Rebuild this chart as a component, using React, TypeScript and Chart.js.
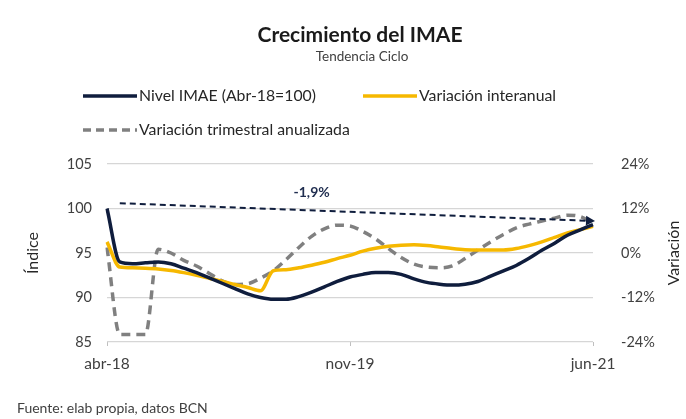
import React, { useEffect, useRef } from 'react';
import { Chart, registerables } from 'chart.js';

Chart.register(...registerables);

const months = [
  'abr-18', 'may-18', 'jun-18', 'jul-18', 'ago-18', 'sep-18', 'oct-18', 'nov-18', 'dic-18',
  'ene-19', 'feb-19', 'mar-19', 'abr-19', 'may-19', 'jun-19', 'jul-19', 'ago-19', 'sep-19', 'oct-19', 'nov-19', 'dic-19',
  'ene-20', 'feb-20', 'mar-20', 'abr-20', 'may-20', 'jun-20', 'jul-20', 'ago-20', 'sep-20', 'oct-20', 'nov-20', 'dic-20',
  'ene-21', 'feb-21', 'mar-21', 'abr-21', 'may-21', 'jun-21',
];
const shownTicks = ['abr-18', 'nov-19', 'jun-21'];

const nivel = [
  100, 94.0, 93.8, 93.9, 94.0, 93.8, 93.3, 92.8, 92.2, 91.6, 91.0, 90.4, 90.0, 89.8, 89.8, 90.1, 90.6,
  91.2, 91.8, 92.3, 92.6, 92.8, 92.8, 92.6, 92.1, 91.7, 91.5, 91.4, 91.5, 91.8, 92.4, 93.0, 93.6, 94.4,
  95.3, 96.1, 97.0, 97.6, 98.2,
];
const interanual = [
  3.0, -3.8, -4.0, -4.1, -4.3, -4.7, -5.3, -6.0, -6.8, -7.6, -8.5, -9.3, -10.2, -4.8, -4.5, -4.0, -3.3,
  -2.5, -1.5, -0.6, 0.5, 1.3, 1.8, 2.1, 2.2, 2.0, 1.6, 1.2, 0.9, 0.8, 0.8, 0.8, 1.2, 2.0, 3.0, 4.2, 5.4,
  6.3, 7.2,
];
const trimestral = [
  1.5, -22, -22, -22, 1.0, 0.0, -2.0, -3.5, -5.5, -7.5, -8.5, -8.3, -6.8, -4.8, -1.8, 1.5, 4.5, 6.5, 7.5,
  7.3, 5.8, 3.8, 1.2, -1.2, -3.0, -3.8, -4.0, -3.5, -1.5, 0.8, 3.0, 5.0, 6.8, 7.8, 8.6, 9.4, 10.2, 9.8, 8.1,
];
const trendMonths = ['may-18', 'jun-21'];
const trendValues = [100.6, 98.6];
const trendLabel = '-1,9%';
const trendLabelAt = { month: 'ago-19', value: 101.75 };

const leftRange = [85, 105, 5];
const rightRange = [-24, 24, 12];

const titleText = 'Crecimiento del IMAE';
const subtitleText = 'Tendencia Ciclo';
const leftTitle = 'Índice';
const rightTitle = 'Variación';
const sourceText = 'Fuente: elab propia, datos BCN';
const seriesNames = ['Nivel IMAE (Abr-18=100)', 'Variación interanual', 'Variación trimestral anualizada'];

const NAVY = '#0f1d3d';
const YELLOW = '#f6b800';
const GRAY = '#808080';
const TEXT = '#404040';
const FONT = 'Lato, "Open Sans", sans-serif';

const trendData = months.map((m) => {
  const i = trendMonths.indexOf(m);
  return i >= 0 ? trendValues[i] : null;
});

const decor = {
  id: 'decor',
  afterDatasetsDraw(chart: any) {
    const ctx = chart.ctx;
    const meta = chart.getDatasetMeta(3);
    const a = meta.data[months.indexOf(trendMonths[0])];
    const b = meta.data[months.indexOf(trendMonths[1])];
    const ang = Math.atan2(b.y - a.y, b.x - a.x);
    ctx.save();
    ctx.fillStyle = NAVY;
    ctx.translate(b.x + 2, b.y);
    ctx.rotate(ang);
    ctx.beginPath();
    ctx.moveTo(0, 0);
    ctx.lineTo(-9, -5);
    ctx.lineTo(-9, 5);
    ctx.closePath();
    ctx.fill();
    ctx.restore();

    const lx = chart.scales.x.getPixelForValue(months.indexOf(trendLabelAt.month));
    const ly = chart.scales.y.getPixelForValue(trendLabelAt.value);
    ctx.save();
    ctx.fillStyle = '#1f2d4f';
    ctx.font = `bold 14px ${FONT}`;
    ctx.textAlign = 'center';
    ctx.textBaseline = 'middle';
    ctx.fillText(trendLabel, lx, ly);
    ctx.restore();
  },
  afterDraw(chart: any) {
    const ctx = chart.ctx;
    const area = chart.chartArea;
    ctx.save();
    ctx.textBaseline = 'middle';
    ctx.textAlign = 'center';
    ctx.fillStyle = '#1a1a1a';
    ctx.font = `bold 21px ${FONT}`;
    ctx.fillText(titleText, 360, 35);
    ctx.fillStyle = TEXT;
    ctx.font = `13.5px ${FONT}`;
    ctx.fillText(subtitleText, 362, 57);

    // legend
    ctx.textAlign = 'left';
    ctx.font = `15.8px ${FONT}`;
    const items = [
      { x: 83, y: 96, color: NAVY, dash: [] as number[], w: 3.5 },
      { x: 363, y: 96, color: YELLOW, dash: [] as number[], w: 3.5 },
      { x: 83, y: 130, color: GRAY, dash: [8, 5], w: 3.5 },
    ];
    items.forEach((it, i) => {
      ctx.save();
      ctx.strokeStyle = it.color;
      ctx.lineWidth = it.w;
      ctx.setLineDash(it.dash);
      ctx.beginPath();
      ctx.moveTo(it.x, it.y);
      ctx.lineTo(it.x + 54, it.y);
      ctx.stroke();
      ctx.restore();
      ctx.fillStyle = '#262626';
      ctx.fillText(seriesNames[i], it.x + 56, it.y);
    });

    // axis titles
    const midY = (area.top + area.bottom) / 2;
    ctx.font = `16px ${FONT}`;
    ctx.fillStyle = '#262626';
    ctx.textAlign = 'center';
    ctx.save();
    ctx.translate(33, midY);
    ctx.rotate(-Math.PI / 2);
    ctx.fillText(leftTitle, 0, 0);
    ctx.restore();
    ctx.save();
    ctx.translate(674, midY);
    ctx.rotate(-Math.PI / 2);
    ctx.fillText(rightTitle, 0, 0);
    ctx.restore();

    ctx.textAlign = 'left';
    ctx.font = `14px ${FONT}`;
    ctx.fillStyle = TEXT;
    ctx.fillText(sourceText, 17, 408);
    ctx.restore();
  },
};

export default function App() {
  const ref = useRef<HTMLCanvasElement>(null);
  useEffect(() => {
    document.body.style.margin = '0';
    const chart = new Chart(ref.current as HTMLCanvasElement, {
      type: 'line',
      data: {
        labels: months,
        datasets: [
          {
            label: seriesNames[0], data: nivel, yAxisID: 'y', borderColor: NAVY, borderWidth: 3.5,
            pointRadius: 0, tension: 0.35, cubicInterpolationMode: 'monotone', order: 1,
          },
          {
            label: seriesNames[1], data: interanual, yAxisID: 'y1', borderColor: YELLOW, borderWidth: 3.5,
            pointRadius: 0, tension: 0.35, cubicInterpolationMode: 'monotone', order: 2,
          },
          {
            label: seriesNames[2], data: trimestral, yAxisID: 'y1', borderColor: GRAY, borderWidth: 3.5,
            borderDash: [9, 6], pointRadius: 0, tension: 0.35, cubicInterpolationMode: 'monotone', order: 3,
          },
          {
            label: 'tendencia', data: trendData, yAxisID: 'y', borderColor: NAVY, borderWidth: 2,
            borderDash: [6, 4], pointRadius: 0, spanGaps: true, tension: 0, order: 0,
          },
        ],
      },
      options: {
        responsive: false,
        animation: false,
        devicePixelRatio: 1,
        layout: { padding: { left: 20, right: 0, top: 164, bottom: 30 } },
        plugins: { legend: { display: false }, tooltip: { enabled: false }, title: { display: false } },
        scales: {
          x: {
            type: 'category',
            offset: false,
            grid: {
              drawOnChartArea: false,
              drawTicks: true,
              tickLength: 4,
              color: (c: any) => (c.tick && shownTicks.includes(months[c.tick.value]) ? '#bfbfbf' : 'rgba(0,0,0,0)'),
            },
            border: { display: false },
            ticks: {
              autoSkip: false,
              maxRotation: 0,
              padding: 9,
              color: TEXT,
              font: { family: FONT, size: 15.5 },
              callback: (v: any) => (shownTicks.includes(months[v]) ? months[v] : ''),
            },
            afterFit: (s: any) => { s.height = 47; },
          },
          y: {
            position: 'left',
            min: leftRange[0], max: leftRange[1],
            ticks: { stepSize: leftRange[2], color: TEXT, font: { family: FONT, size: 14.5 }, padding: 15 },
            grid: { color: '#d6d6d6', lineWidth: 1.2, drawTicks: false },
            border: { display: false },
            afterFit: (s: any) => { s.width = 87; },
          },
          y1: {
            position: 'right',
            min: rightRange[0], max: rightRange[1],
            ticks: {
              stepSize: rightRange[2], color: TEXT, font: { family: FONT, size: 14.5 }, padding: 28,
              callback: (v: any) => `${v}%`,
            },
            grid: { drawOnChartArea: false, drawTicks: false },
            border: { display: false },
            afterFit: (s: any) => { s.width = 93; },
          },
        },
      },
      plugins: [decor],
    } as any);
    return () => chart.destroy();
  }, []);
  return (
    <div style={{ width: 686, height: 419, background: '#fff' }}>
      <canvas ref={ref} width={686} height={419} />
    </div>
  );
}
